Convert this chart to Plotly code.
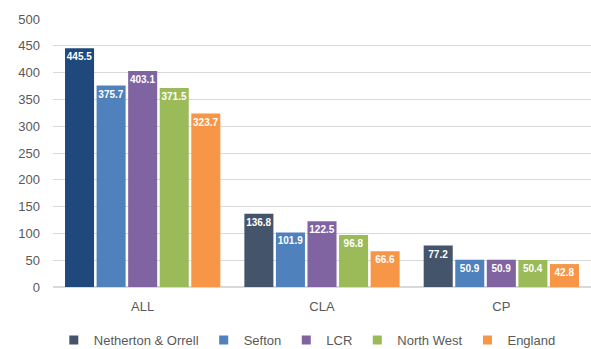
import plotly.graph_objects as go

categories = ["ALL", "CLA", "CP"]
series_names = ["Netherton & Orrell", "Sefton", "LCR", "North West", "England"]
netherton = [445.5, 136.8, 77.2]
sefton = [375.7, 101.9, 50.9]
lcr = [403.1, 122.5, 50.9]
north_west = [371.5, 96.8, 50.4]
england = [323.7, 66.6, 42.8]
values = [netherton, sefton, lcr, north_west, england]

colors = [
    ["#1F497D", "#44546A", "#44546A"],
    "#4F81BD",
    "#8064A2",
    "#9BBB59",
    "#F79646",
]
legend_colors = ["#44546A", "#4F81BD", "#8064A2", "#9BBB59", "#F79646"]

font_family = "Liberation Sans, Arial, sans-serif"

fig = go.Figure()
for name, vals, col in zip(series_names, values, colors):
    fig.add_trace(go.Bar(
        name=name, x=categories, y=vals,
        marker=dict(color=col, line=dict(width=0)),
        text=[f"{v:.1f}" for v in vals],
        textposition="inside", insidetextanchor="end", textangle=0,
        constraintext="none",
        textfont=dict(color="white", size=10, family=font_family),
        texttemplate="<b>%{text}</b>",
        showlegend=False,
    ))
# legend entries
for name, col in zip(series_names, legend_colors):
    fig.add_trace(go.Scatter(name=name, x=[None], y=[None], mode="markers",
                             marker=dict(color=col, symbol="square", size=9), showlegend=True))

fig.update_layout(
    width=591, height=349,
    barmode="group", bargap=0.12, bargroupgap=0.08,
    margin=dict(l=53, r=0, t=19, b=62, autoexpand=False),
    paper_bgcolor="white", plot_bgcolor="white",
    font=dict(family=font_family, size=12, color="#595959"),
    legend=dict(orientation="h", x=0.52, xanchor="center", xref="container",
                y=(349 - 340) / 349, yref="container", yanchor="middle",
                font=dict(size=13, color="#595959"), itemwidth=30, traceorder="normal"),
)
fig.update_yaxes(range=[0, 500], dtick=50, gridcolor="#D9D9D9", gridwidth=1, automargin=False,
                 zeroline=True, zerolinecolor="#D9D9D9", ticks="", tickfont=dict(size=13, color="#595959"),
                 ticklabelstandoff=12)
fig.update_xaxes(showline=False, ticks="", automargin=False,
                 tickfont=dict(size=13, color="#595959"), ticklabelstandoff=10)

fig.write_html("out.html", config={"displayModeBar": False},
               post_script="document.body.style.margin='0';")
